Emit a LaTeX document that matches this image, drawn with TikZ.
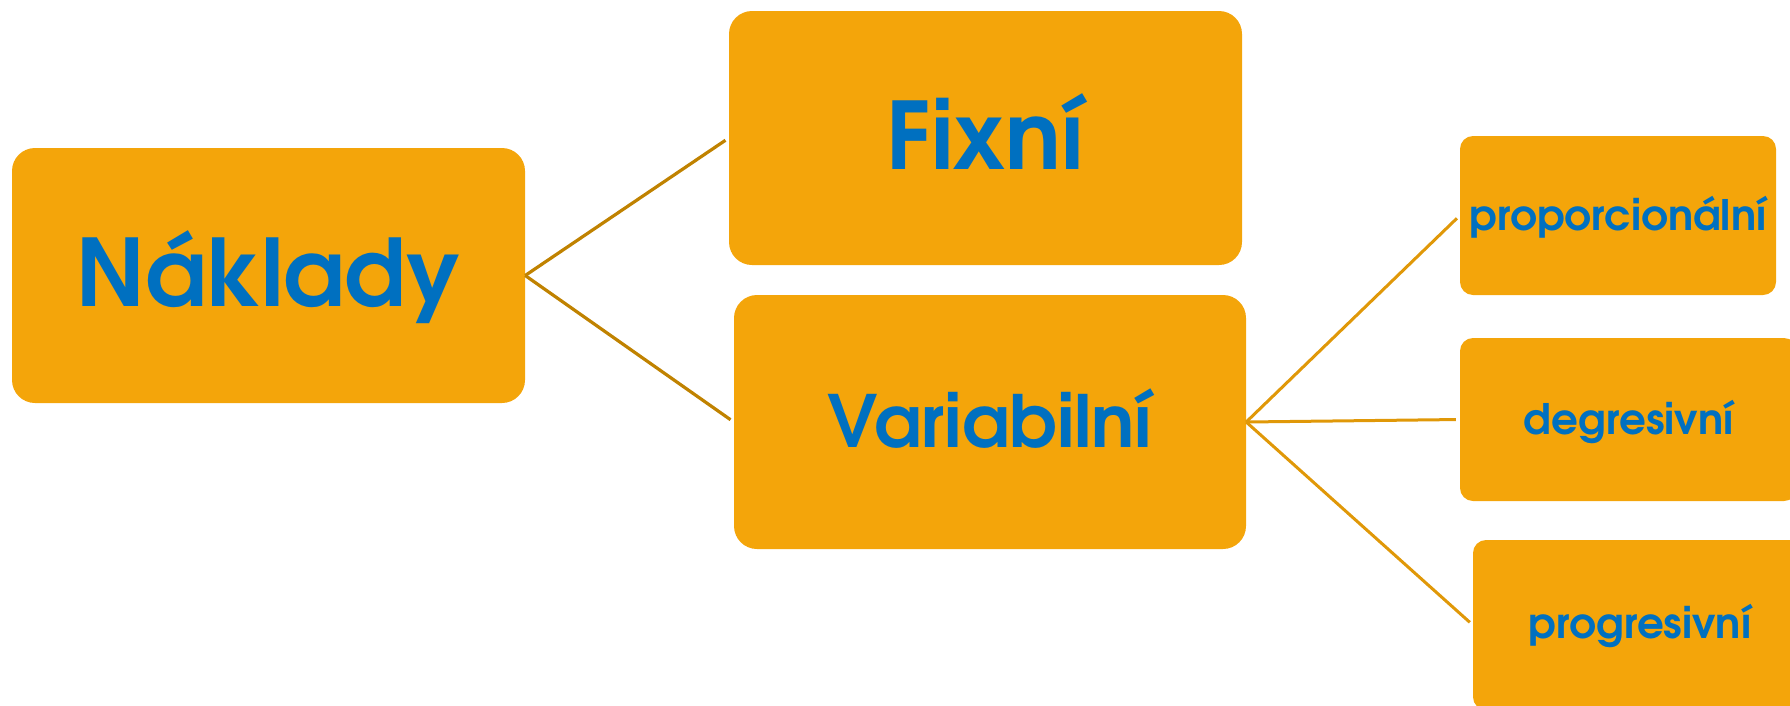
\documentclass[tikz,border=0pt]{standalone}
\usepackage{fontspec}
\newfontfamily\cg{texgyreadventor-bold.otf}
\definecolor{boxfill}{RGB}{244,165,10}
\definecolor{txtblue}{RGB}{0,112,192}
\definecolor{lineA}{RGB}{192,130,0}
\definecolor{lineB}{RGB}{224,152,8}
\tikzset{
  boxbase/.style={draw=none, fill=boxfill, text=txtblue, inner sep=0pt},
  bigbox/.style={boxbase, rounded corners=23pt, minimum width=513pt, minimum height=255pt,
    font=\cg\fontsize{93}{93}\selectfont, text height=68.8pt},
  smallbox/.style={boxbase, rounded corners=13pt,
    font=\cg\fontsize{42}{42}\selectfont, text height=31.1pt},
  conA/.style={draw=lineA, line width=3.2pt, shorten >=4pt},
  conB/.style={draw=lineB, line width=3pt, shorten >=4pt},
}
\begin{document}
\begin{tikzpicture}[x=1pt,y=-1pt]
\useasboundingbox (0,0) rectangle (1790,705);
\node[bigbox, text depth=6pt] (nak) at (268.5,275.5) {Náklady};
\node[bigbox, minimum height=254pt, text depth=5pt] (fix) at (985.5,138) {Fixní};
\node[bigbox, minimum width=512pt, minimum height=254pt,
      font=\cg\fontsize{72}{72}\selectfont, text height=53.3pt, text depth=3pt] (var) at (990,422) {Variabilní};
\node[smallbox, minimum width=316pt, minimum height=159pt, text depth=2pt] (prop) at (1618,215.5) {proporcionální};
\node[smallbox, minimum width=337pt, minimum height=163pt, text depth=2pt] (deg) at (1628.5,419.5) {degresivní};
\node[smallbox, minimum width=334pt, minimum height=170pt, text depth=5pt] (prog) at (1640,625) {progresivní};
\draw[conA] (nak.east) -- (fix.west);
\draw[conA] (nak.east) -- (var.west);
\draw[conB] (var.east) -- (prop.west);
\draw[conB] (var.east) -- (deg.west);
\draw[conB] (var.east) -- (prog.west);
\end{tikzpicture}
\end{document}
